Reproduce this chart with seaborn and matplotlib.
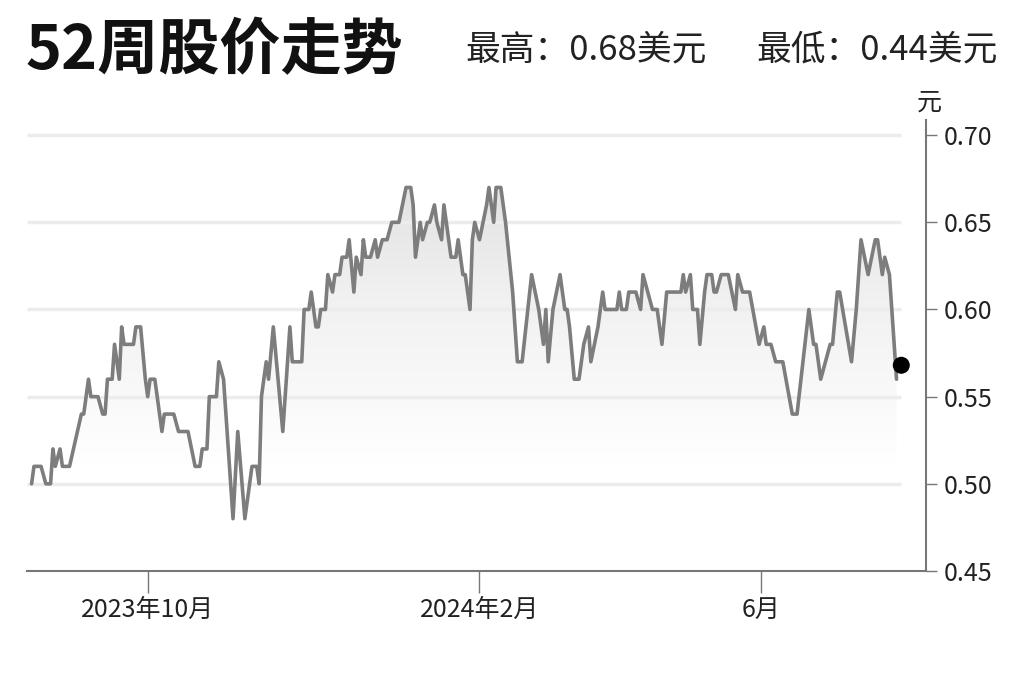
import numpy as np
import pandas as pd
import matplotlib
matplotlib.use("Agg")
import matplotlib.pyplot as plt
from matplotlib.colors import LinearSegmentedColormap
import seaborn as sns

# trading days (index) and closing price in USD
day = [0, 1, 4, 6, 8, 9, 10, 12, 13, 16, 21, 22, 24, 25, 28, 30, 31, 32, 34, 35,
       37, 38, 39, 43, 44, 46, 48, 49, 50, 52, 53, 55, 56, 60, 62, 66, 69, 71, 72, 74,
       75, 78, 79, 81, 85, 87, 90, 93, 95, 96, 97, 99, 100, 102, 106, 109, 110, 114, 115, 117,
       118, 120, 121, 122, 124, 125, 127, 128, 130, 131, 133, 134, 136, 137, 139, 140, 141, 143, 145, 146,
       148, 150, 152, 155, 158, 160, 161, 162, 164, 165, 167, 168, 170, 171, 173, 174, 176, 177, 179, 180,
       182, 183, 185, 186, 187, 189, 192, 193, 195, 196, 198, 200, 203, 205, 207, 211, 214, 216, 217, 218,
       220, 223, 225, 226, 227, 229, 231, 233, 235, 236, 239, 241, 242, 247, 248, 249, 251, 252, 255, 257,
       258, 262, 264, 266, 268, 274, 275, 276, 278, 279, 281, 282, 284, 285, 287, 288, 289, 291, 294, 297,
       298, 300, 303, 307, 309, 310, 312, 314, 317, 321, 323, 328, 330, 331, 333, 337, 338, 340, 341, 346,
       348, 350, 353, 356, 357, 359, 360, 362, 365]
price = [0.50, 0.51, 0.51, 0.50, 0.50, 0.52, 0.51, 0.52, 0.51, 0.51, 0.54, 0.54, 0.56, 0.55, 0.55, 0.54, 0.54, 0.56, 0.56, 0.58,
         0.56, 0.59, 0.58, 0.58, 0.59, 0.59, 0.56, 0.55, 0.56, 0.56, 0.55, 0.53, 0.54, 0.54, 0.53, 0.53, 0.51, 0.51, 0.52, 0.52,
         0.55, 0.55, 0.57, 0.56, 0.48, 0.53, 0.48, 0.51, 0.51, 0.50, 0.55, 0.57, 0.56, 0.59, 0.53, 0.59, 0.57, 0.57, 0.60, 0.60,
         0.61, 0.59, 0.59, 0.60, 0.60, 0.62, 0.61, 0.62, 0.62, 0.63, 0.63, 0.64, 0.61, 0.63, 0.62, 0.64, 0.63, 0.63, 0.64, 0.63,
         0.64, 0.64, 0.65, 0.65, 0.67, 0.67, 0.66, 0.63, 0.65, 0.64, 0.65, 0.65, 0.66, 0.65, 0.64, 0.66, 0.64, 0.63, 0.63, 0.64,
         0.62, 0.62, 0.60, 0.64, 0.65, 0.64, 0.66, 0.67, 0.65, 0.67, 0.67, 0.65, 0.61, 0.57, 0.57, 0.62, 0.60, 0.58, 0.60, 0.57,
         0.60, 0.62, 0.60, 0.60, 0.59, 0.56, 0.56, 0.58, 0.59, 0.57, 0.59, 0.61, 0.60, 0.60, 0.61, 0.60, 0.60, 0.61, 0.61, 0.60,
         0.62, 0.60, 0.60, 0.58, 0.61, 0.61, 0.62, 0.61, 0.62, 0.60, 0.60, 0.58, 0.61, 0.62, 0.62, 0.61, 0.61, 0.62, 0.62, 0.60,
         0.62, 0.61, 0.61, 0.58, 0.59, 0.58, 0.58, 0.57, 0.57, 0.54, 0.54, 0.60, 0.58, 0.58, 0.56, 0.58, 0.58, 0.61, 0.61, 0.57,
         0.60, 0.64, 0.62, 0.64, 0.64, 0.62, 0.63, 0.62, 0.56]

last_day = 367
last_price = 0.568

tick_days = [49, 189, 308]
tick_labels = ["2023年10月", "2024年2月", "6月"]
y_ticks = [0.45, 0.50, 0.55, 0.60, 0.65, 0.70]

title = "52周股价走势"
high_text = "最高：0.68美元"
low_text = "最低：0.44美元"
unit = "元"

df = pd.DataFrame({"day": day, "price": price})

sns.set_theme(style="white")
plt.rcParams["font.family"] = ["Noto Sans CJK SC", "DejaVu Sans"]

fig = plt.figure(figsize=(10.24, 6.82), dpi=100)
ax = fig.add_axes([0.026, 0.1628, 0.878, 0.661])

xmin, xmax = -2.1, 377.3
ymin, ymax = 0.45, 0.7086

# light horizontal grid, stopping at the latest price
ax.hlines(y_ticks[1:], xmin, last_day, color="#ececec", lw=2.5, zorder=2)

# gradient fill under the line, fading out to white near 0.51
poly = ax.fill_between(df["day"], df["price"], ymin, color="none", lw=0)
grad = np.linspace(0, 1, 256).reshape(-1, 1)
cmap = LinearSegmentedColormap.from_list("fade", ["#ffffff", "#f1f1f1", "#dcdcdc"])
img = ax.imshow(grad, extent=[day[0], day[-1], 0.51, 0.70], origin="lower",
                aspect="auto", cmap=cmap, zorder=1)
img.set_clip_path(poly.get_paths()[0], transform=ax.transData)

sns.lineplot(data=df, x="day", y="price", color="#7d7d7d", linewidth=2.6, ax=ax, zorder=3)
sns.scatterplot(x=[last_day], y=[last_price], color="black", s=150, edgecolor="none", ax=ax, zorder=4)

ax.set_xlim(xmin, xmax)
ax.set_ylim(ymin, ymax)
ax.set_xlabel("")
ax.set_ylabel("")

for side in ["top", "left"]:
    ax.spines[side].set_visible(False)
for side in ["right", "bottom"]:
    ax.spines[side].set_color("#777777")
    ax.spines[side].set_linewidth(1.5)

ax.set_xticks(tick_days)
ax.set_xticklabels(tick_labels)
ax.set_yticks(y_ticks)
ax.set_yticklabels([f"{v:.2f}" for v in y_ticks])
ax.tick_params(axis="x", bottom=True, length=16, width=1, color="#777777",
               labelsize=18, labelcolor="#222222", pad=3)
ax.tick_params(axis="y", left=False, right=True, labelleft=False, labelright=True,
               length=8, width=1, color="#777777", labelsize=18, labelcolor="#222222", pad=5)

fig.text(25 / 1024, 1 - 51 / 682, title, fontsize=44, fontweight="bold", va="center", color="#111111")
fig.text(465 / 1024, 1 - 50 / 682, high_text, fontsize=25, va="center", color="#222222")
fig.text(998 / 1024, 1 - 50 / 682, low_text, fontsize=25, va="center", ha="right", color="#222222")
fig.text(929 / 1024, 1 - 103 / 682, unit, fontsize=18, va="center", ha="center", color="#222222")

fig.savefig("out.png", dpi=100, facecolor="white")
